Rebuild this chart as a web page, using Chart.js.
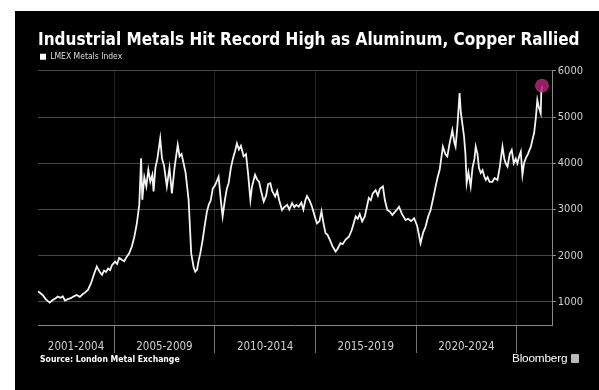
<!DOCTYPE html>
<html>
<head>
<meta charset="utf-8">
<script src="https://cdn.jsdelivr.net/npm/chart.js@4.4.1/dist/chart.umd.min.js"></script>
<style>
  body { margin: 0; background: #fff; width: 599px; height: 390px; overflow: hidden; }
  #box { position: absolute; left: 15px; top: 11px; width: 584px; height: 379px; background: #000; }
  #source { position: absolute; left: 25px; top: 343px; color: #fff; font: bold 8.6px 'DejaVu Sans Condensed', 'DejaVu Sans', sans-serif; }
  #brand { position: absolute; left: 497px; top: 340px; color: #fff; font: 11.8px 'Liberation Sans', sans-serif; letter-spacing: -0.2px; }
  #brand span { display: inline-block; width: 8px; height: 9px; background: #bbb; margin-left: 4px; vertical-align: -1px; border-radius: 1px; }
</style>
</head>
<body>
<div id="box">
  <canvas id="myChart" width="584" height="379"></canvas>
  <div id="source">Source: London Metal Exchange</div>
  <div id="brand">Bloomberg<span></span></div>
</div>
<script>
// LMEX index (x in decimal years)
var years = [
  2001.22,2001.45,2001.6,2001.8,2001.95,2002.1,2002.2,2002.35,2002.45,2002.56,2002.7,2002.85,
  2003.0,2003.14,2003.3,2003.45,2003.55,2003.7,2003.85,2004.0,2004.14,2004.22,2004.3,2004.4,
  2004.5,2004.6,2004.7,2004.8,2004.9,2005.05,2005.15,2005.25,2005.38,2005.5,2005.63,2005.75,
  2005.88,2006.0,2006.13,2006.25,2006.34,2006.4,2006.5,2006.6,2006.7,2006.8,2006.9,2006.96,
  2007.05,2007.15,2007.29,2007.38,2007.48,2007.62,2007.75,2007.87,2008.0,2008.16,2008.25,2008.35,
  2008.45,2008.55,2008.7,2008.83,2008.95,2009.03,2009.12,2009.2,2009.28,2009.4,2009.5,2009.61,
  2009.7,2009.8,2009.9,2010.02,2010.19,2010.3,2010.39,2010.5,2010.6,2010.69,2010.8,2010.9,
  2011.0,2011.1,2011.2,2011.3,2011.43,2011.55,2011.65,2011.77,2011.85,2012.0,2012.1,2012.2,
  2012.3,2012.43,2012.55,2012.65,2012.76,2012.85,2013.0,2013.1,2013.2,2013.34,2013.45,2013.6,
  2013.7,2013.84,2013.95,2014.05,2014.17,2014.3,2014.4,2014.5,2014.58,2014.7,2014.83,2015.0,
  2015.08,2015.2,2015.3,2015.4,2015.5,2015.6,2015.75,2015.85,2016.0,2016.1,2016.24,2016.35,
  2016.5,2016.66,2016.8,2017.0,2017.1,2017.2,2017.32,2017.45,2017.55,2017.65,2017.75,2017.85,
  2017.99,2018.1,2018.2,2018.35,2018.45,2018.57,2018.7,2018.82,2018.95,2019.05,2019.15,2019.3,
  2019.48,2019.6,2019.75,2019.9,2020.05,2020.22,2020.35,2020.47,2020.6,2020.72,2020.85,2020.97,
  2021.07,2021.17,2021.33,2021.45,2021.55,2021.65,2021.8,2021.9,2021.96,2022.05,2022.16,2022.22,
  2022.3,2022.38,2022.45,2022.51,2022.6,2022.71,2022.8,2022.9,2022.96,2023.05,2023.12,2023.21,
  2023.3,2023.4,2023.46,2023.55,2023.65,2023.79,2023.9,2024.04,2024.15,2024.29,2024.38,2024.45,
  2024.54,2024.65,2024.75,2024.85,2024.95,2025.03,2025.12,2025.2,2025.28,2025.36,2025.45,2025.55,
  2025.7,2025.8,2025.86,2025.95,2026.02,2026.1,2026.19,2026.22,2026.25
];
var lmex = [
  1230,1150,1060,985,1040,1080,1115,1090,1120,1030,1060,1080,
  1120,1150,1110,1170,1200,1260,1400,1600,1765,1700,1640,1585,
  1680,1650,1720,1690,1800,1870,1820,1950,1910,1880,1980,2050,
  2200,2400,2700,3100,4110,3210,3700,3500,3860,3600,3750,3390,
  3900,4100,4540,4100,3950,3500,3900,3350,3900,4400,4150,4200,
  4000,3800,3210,2050,1750,1655,1700,1900,2050,2350,2650,2955,
  3100,3200,3450,3530,3710,3200,2850,3200,3450,3570,3900,4100,
  4250,4430,4300,4380,4150,4200,3800,3210,3500,3750,3650,3600,
  3400,3170,3300,3550,3570,3400,3280,3400,3200,2990,3050,3100,
  3000,3140,3050,3100,3060,3150,3000,3200,3290,3200,3060,2800,
  2700,2750,2960,2700,2490,2450,2310,2200,2090,2150,2270,2250,
  2350,2410,2550,2850,2800,2900,2740,2850,3050,3250,3200,3350,
  3420,3300,3450,3500,3200,2990,2950,2880,2950,3000,3060,2900,
  2770,2800,2750,2810,2650,2270,2500,2630,2850,2990,3250,3500,
  3700,3860,4360,4200,4150,4400,4720,4450,4360,4800,5520,5100,
  4850,4580,4200,3570,3800,3500,3900,4100,4360,4200,3900,3790,
  3850,3700,3640,3700,3600,3600,3680,3640,3900,4360,4100,4000,
  3930,4200,4290,4000,4100,4000,4150,4250,3750,4000,4110,4200,
  4360,4550,4650,5000,5370,5200,5080,5600,5680
];

// x axis: period boundaries and their labels
var xMin = 2001.22;
var xMax = 2026.79;
var boundaries = [2005, 2010, 2015, 2020, 2025];
var periods = ['2001-2004', '2005-2009', '2010-2014', '2015-2019', '2020-2024'];
var yTicks = [1000, 2000, 3000, 4000, 5000, 6000];

var edges = [xMin].concat(boundaries);
var mids = periods.map(function (p, i) { return (edges[i] + edges[i + 1]) / 2; });
// ticks alternate: label (mid) then boundary
var xTicks = [];
mids.forEach(function (m, i) { xTicks.push(m); xTicks.push(boundaries[i]); });
var isEdge = xTicks.map(function (v) { return boundaries.indexOf(v) >= 0; });

var points = years.map(function (y, i) { return { x: y, y: lmex[i] }; });
var last = points.length - 1;

var narrow = "'Liberation Sans Narrow', 'DejaVu Sans Condensed', sans-serif";

var ctx = document.getElementById('myChart');
var myChart = new Chart(ctx, {
  type: 'line',
  data: {
    datasets: [{
      label: 'LMEX Metals Index',
      data: points,
      borderColor: '#f4f4f4',
      backgroundColor: '#ffffff',
      borderWidth: 1.8,
      tension: 0,
      pointRadius: function (c) { return c.dataIndex === last ? 6.5 : 0; },
      pointBackgroundColor: 'rgba(175,35,115,0.85)',
      pointBorderColor: 'rgba(215,80,160,0.5)',
      pointBorderWidth: 1
    }]
  },
  options: {
    responsive: false,
    animation: false,
    devicePixelRatio: 1,
    layout: { padding: { left: 23, right: 14, top: 0, bottom: 23 } },
    plugins: {
      title: {
        display: true,
        text: 'Industrial Metals Hit Record High as Aluminum, Copper Rallied',
        align: 'start',
        color: '#ffffff',
        font: { family: "'DejaVu Sans Condensed', 'DejaVu Sans', sans-serif", size: 17, weight: 'bold' },
        padding: { top: 19, bottom: 0 }
      },
      legend: {
        display: true,
        align: 'start',
        labels: {
          color: '#dddddd',
          boxWidth: 6,
          boxHeight: 6,
          padding: 2,
          font: { family: narrow, size: 8.5 },
          generateLabels: function (chart) {
            return [{ text: 'LMEX Metals Index', fillStyle: '#fff', strokeStyle: '#fff', lineWidth: 0, datasetIndex: 0, fontColor: '#dddddd' }];
          }
        }
      },
      tooltip: { enabled: false }
    },
    scales: {
      x: {
        type: 'linear',
        min: xMin,
        max: xMax,
        afterBuildTicks: function (s) { s.ticks = xTicks.map(function (v) { return { value: v }; }); },
        afterFit: function (s) { s.height = 42; },
        grid: {
          color: isEdge.map(function (e) { return e ? 'rgba(255,255,255,0.14)' : 'rgba(0,0,0,0)'; }),
          tickColor: isEdge.map(function (e) { return e ? 'rgba(255,255,255,0.45)' : 'rgba(0,0,0,0)'; }),
          tickLength: 28,
          lineWidth: 1
        },
        border: { color: '#888888', width: 1 },
        ticks: {
          autoSkip: false,
          maxRotation: 0,
          padding: -13,
          color: '#d0d0d0',
          font: { family: narrow, size: 11.5 },
          callback: function (v, i) { return isEdge[i] ? '' : periods[i / 2]; }
        }
      },
      y: {
        position: 'right',
        min: 500,
        max: 6000,
        afterBuildTicks: function (s) { s.ticks = yTicks.map(function (v) { return { value: v }; }); },
        grid: { color: 'rgba(255,255,255,0.28)', tickColor: '#999999', tickLength: 3, lineWidth: 1 },
        border: { color: '#888888', width: 1 },
        ticks: {
          padding: 2,
          color: '#d0d0d0',
          font: { family: narrow, size: 11 },
          callback: function (v) { return String(v); }
        }
      }
    }
  }
});
</script>
</body>
</html>
